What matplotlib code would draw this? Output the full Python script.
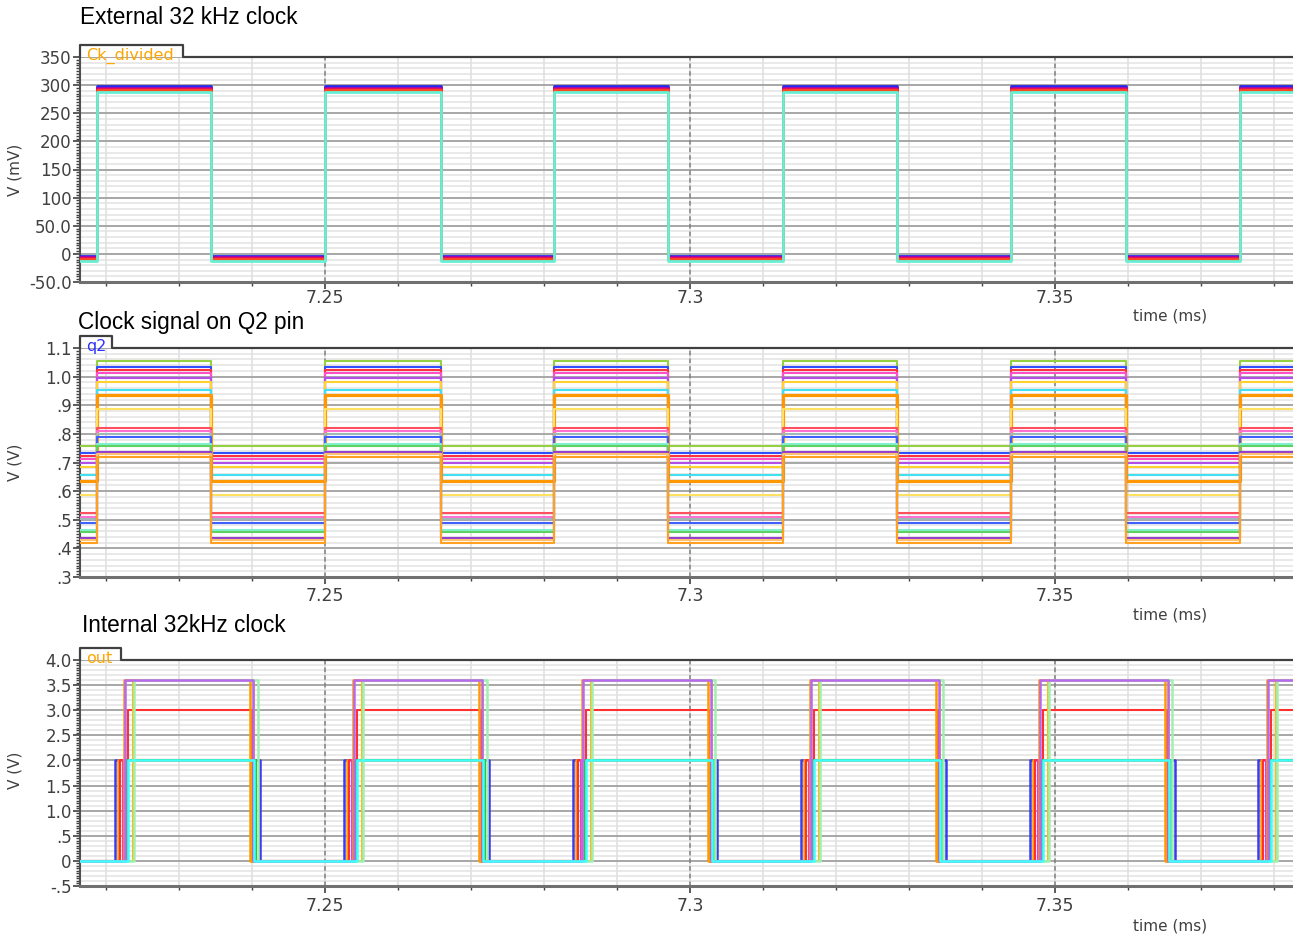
import numpy as np
import matplotlib
matplotlib.use("Agg")
import matplotlib.pyplot as plt
from matplotlib.patches import Rectangle
from matplotlib.lines import Line2D
from matplotlib.ticker import MultipleLocator

T_MIN, T_MAX = 7.2164, 7.3826
X_TICKS = [7.25, 7.3, 7.35]
X_TICK_LABELS = ["7.25", "7.3", "7.35"]

# edges of the external clock (ms)
RISE_TIMES = [7.21877, 7.2500, 7.2814, 7.3127, 7.3440, 7.3753]
FALL_TIMES = [7.2344, 7.2658, 7.2970, 7.3284, 7.3597]

# panel 1: Ck_divided (mV)
CK_COLORS = ["#2828e8", "#b000a8", "#e8105a", "#ff4a20", "#66f0d4"]
CK_HIGH = [298.0, 295.5, 293.0, 291.0, 287.5]
CK_LOW = [-3.0, -5.5, -8.0, -9.5, -12.5]
CK_WIDTHS = [2.0, 2.0, 2.0, 2.0, 2.0]
CK_TICKS = [-50, 0, 50, 100, 150, 200, 250, 300, 350]
CK_TICK_LABELS = ["-50.0", "0", "50.0", "100", "150", "200", "250", "300", "350"]

# panel 2: q2 (V)
Q2_COLORS = ["#94d040", "#3050ff", "#ff3040", "#ff50c8", "#b050e8", "#ffd030",
             "#40e0f0", "#ff9800", "#ffe060", "#ff5060", "#ff70d0", "#a0b8b8",
             "#4060ff", "#80f0d0", "#60d060", "#9040d0", "#ffc070", "#ffa020"]
Q2_HIGH = [1.055, 1.033, 1.022, 1.012, 0.995, 0.982, 0.955, 0.937, 0.886,
           0.822, 0.811, 0.801, 0.790, 0.765, 0.757, 0.735, 0.730, 0.720]
Q2_LOW = [0.757, 0.733, 0.722, 0.712, 0.697, 0.683, 0.656, 0.637, 0.588,
          0.522, 0.511, 0.501, 0.490, 0.465, 0.458, 0.436, 0.430, 0.420]
Q2_WIDTHS = [1.5, 1.5, 1.5, 1.5, 1.5, 1.5, 1.5, 2.3, 1.5,
             1.5, 1.5, 1.5, 1.5, 1.5, 1.5, 1.5, 1.5, 1.5]
Q2_TICKS = [0.3, 0.4, 0.5, 0.6, 0.7, 0.8, 0.9, 1.0, 1.1]
Q2_TICK_LABELS = [".3", ".4", ".5", ".6", ".7", ".8", ".9", "1.0", "1.1"]

# panel 3: out (V); pulse starts and per-trace steps (offset ms, level)
PULSE_STARTS = [7.22123, 7.2526, 7.28393, 7.31521, 7.34658, 7.37781]
OUT_COLORS = ["#3a3af0", "#ffa000", "#ff3030", "#e040e0", "#30c040",
              "#ff9a00", "#f0c020", "#a0f0b0", "#b868f0", "#40ffff"]
OUT_STEPS = [
    [(0.0000, 2.0), (0.0198, 0.0)],
    [(0.0004, 2.0), (0.0186, 0.0)],
    [(0.0007, 2.0), (0.0018, 3.0), (0.0187, 2.0), (0.0189, 0.0)],
    [(0.0011, 2.0), (0.0190, 0.0)],
    [(0.0016, 2.0), (0.0193, 0.0)],
    [(0.0012, 3.6), (0.0185, 0.0)],
    [(0.0025, 3.6), (0.0190, 0.0)],
    [(0.0026, 3.6), (0.0195, 0.0)],
    [(0.0013, 2.0), (0.0014, 3.6), (0.0189, 0.0)],
    [(0.0018, 2.0), (0.0190, 0.0)],
]
OUT_WIDTHS = [1.8, 1.8, 1.5, 1.5, 1.5, 1.8, 1.5, 1.8, 1.8, 1.8]
OUT_TICKS = [-0.5, 0, 0.5, 1.0, 1.5, 2.0, 2.5, 3.0, 3.5, 4.0]
OUT_TICK_LABELS = ["-.5", "0", ".5", "1.0", "1.5", "2.0", "2.5", "3.0", "3.5", "4.0"]

FIG_W, FIG_H, DPI = 1293, 939, 100
TXT = "#404040"


def clock_wave(high, low):
    edges = sorted([(t, high) for t in RISE_TIMES] + [(t, low) for t in FALL_TIMES])
    xs = [T_MIN] + [t for t, _ in edges] + [T_MAX]
    ys = [low] + [v for _, v in edges] + [edges[-1][1]]
    return xs, ys


def pulse_wave(steps):
    xs, ys = [T_MIN], [0.0]
    for start in PULSE_STARTS:
        for off, lev in steps:
            t = start + off
            if t < T_MAX:
                xs.append(t)
                ys.append(lev)
    xs.append(T_MAX)
    ys.append(ys[-1])
    return xs, ys


def style_axis(ax, ylim, yticks, ylabels, minor_tick, minor_grid, xpad):
    ax.set_xlim(T_MIN, T_MAX)
    ax.set_ylim(*ylim)
    ax.set_facecolor("white")
    ax.set_yticks(yticks)
    ax.set_yticklabels(ylabels)
    ax.yaxis.set_minor_locator(MultipleLocator(minor_tick))
    ax.set_xticks(X_TICKS)
    ax.set_xticklabels(X_TICK_LABELS)
    ax.xaxis.set_minor_locator(MultipleLocator(0.01))
    ax.tick_params(axis="both", which="major", direction="out", length=5, width=1.2,
                   color=TXT, labelcolor=TXT, labelsize=12)
    ax.tick_params(axis="y", which="major", pad=1)
    ax.tick_params(axis="x", which="major", pad=xpad, labelsize=12.5)
    ax.tick_params(axis="both", which="minor", direction="out", length=3, width=1.0, color=TXT)
    for sp in ["top", "right"]:
        ax.spines[sp].set_visible(False)
    ax.spines["left"].set_color("#505050")
    ax.spines["left"].set_linewidth(1.5)
    ax.spines["bottom"].set_color("#707070")
    ax.spines["bottom"].set_linewidth(2.2)

    # grid
    gy = np.arange(ylim[0], ylim[1] + minor_grid / 2, minor_grid)
    ax.hlines(gy, T_MIN, T_MAX, color="#e3e3e3", lw=1.1, zorder=0)
    ax.hlines(yticks, T_MIN, T_MAX, color="#a8a8a8", lw=1.4, zorder=0.5)
    gx = np.arange(7.22, T_MAX, 0.01)
    ax.vlines(gx, ylim[0], ylim[1], color="#e0e0e0", lw=1.2, zorder=0.2)
    ax.vlines(X_TICKS, ylim[0], ylim[1], color="#808080", lw=1.1, linestyles=(0, (3, 2)), zorder=0.6)


def add_tab(ax, text, color, width_px):
    pos = ax.get_position()
    ax_w = pos.width * FIG_W
    ax_h = pos.height * FIG_H
    w = width_px / ax_w
    h = 12 / ax_h
    ax.add_patch(Rectangle((0, 1), w, h, transform=ax.transAxes, facecolor="white",
                           edgecolor="none", clip_on=False, zorder=5))
    ax.add_line(Line2D([0, 0, w, w, 1.0], [1, 1 + h, 1 + h, 1, 1], transform=ax.transAxes,
                       color="#404040", lw=1.6, clip_on=False, zorder=6))
    ax.text(6 / ax_w, 1 + h * 0.1, text, transform=ax.transAxes, color=color,
            fontsize=11.5, family="DejaVu Sans", va="center", ha="left", zorder=7)


def ax_rect(left, top, right, bottom):
    return [left / FIG_W, 1 - bottom / FIG_H, (right - left) / FIG_W, (bottom - top) / FIG_H]


fig = plt.figure(figsize=(FIG_W / DPI, FIG_H / DPI), dpi=DPI)
ax1 = fig.add_axes(ax_rect(80, 57, 1293, 282))
ax2 = fig.add_axes(ax_rect(80, 348, 1293, 577))
ax3 = fig.add_axes(ax_rect(80, 660, 1293, 886))

# panel 1
for c, hi, lo, lw in zip(CK_COLORS, CK_HIGH, CK_LOW, CK_WIDTHS):
    xs, ys = clock_wave(hi, lo)
    ax1.plot(xs, ys, drawstyle="steps-post", color=c, lw=lw, zorder=3)
style_axis(ax1, (-50, 350), CK_TICKS, CK_TICK_LABELS, 5, 10, 0)
add_tab(ax1, "Ck_divided", "#ffa500", 103)

# panel 2
for c, hi, lo, lw in zip(Q2_COLORS, Q2_HIGH, Q2_LOW, Q2_WIDTHS):
    xs, ys = clock_wave(hi, lo)
    ax2.plot(xs, ys, drawstyle="steps-post", color=c, lw=lw, zorder=3)
style_axis(ax2, (0.3, 1.1), Q2_TICKS, Q2_TICK_LABELS, 0.01, 0.02, 2)
add_tab(ax2, "q2", "#3030ff", 32)

# panel 3
for c, steps, lw in zip(OUT_COLORS, OUT_STEPS, OUT_WIDTHS):
    xs, ys = pulse_wave(steps)
    ax3.plot(xs, ys, drawstyle="steps-post", color=c, lw=lw, zorder=3)
style_axis(ax3, (-0.5, 4.0), OUT_TICKS, OUT_TICK_LABELS, 0.05, 0.1, 3)
add_tab(ax3, "out", "#ffa500", 41)

# titles and labels
title_font = dict(family="Liberation Sans", fontsize=16.3, color="black", va="center", ha="left")
fig.text(80 / FIG_W, 1 - 18 / FIG_H, "External 32 kHz clock", **title_font)
fig.text(78 / FIG_W, 1 - 322 / FIG_H, "Clock signal on Q2 pin", **title_font)
fig.text(82 / FIG_W, 1 - 626 / FIG_H, "Internal 32kHz clock", **title_font)

ylab_font = dict(family="DejaVu Sans", fontsize=11, color=TXT, rotation=90, va="center", ha="center")
fig.text(15 / FIG_W, 1 - 170 / FIG_H, "V (mV)", **ylab_font)
fig.text(15 / FIG_W, 1 - 462 / FIG_H, "V (V)", **ylab_font)
fig.text(15 / FIG_W, 1 - 770 / FIG_H, "V (V)", **ylab_font)

xlab_font = dict(family="DejaVu Sans", fontsize=11, color=TXT, va="center", ha="center")
fig.text(1170 / FIG_W, 1 - 316 / FIG_H, "time (ms)", **xlab_font)
fig.text(1170 / FIG_W, 1 - 615 / FIG_H, "time (ms)", **xlab_font)
fig.text(1170 / FIG_W, 1 - 926 / FIG_H, "time (ms)", **xlab_font)

fig.savefig("out.png", dpi=DPI, facecolor="white")
